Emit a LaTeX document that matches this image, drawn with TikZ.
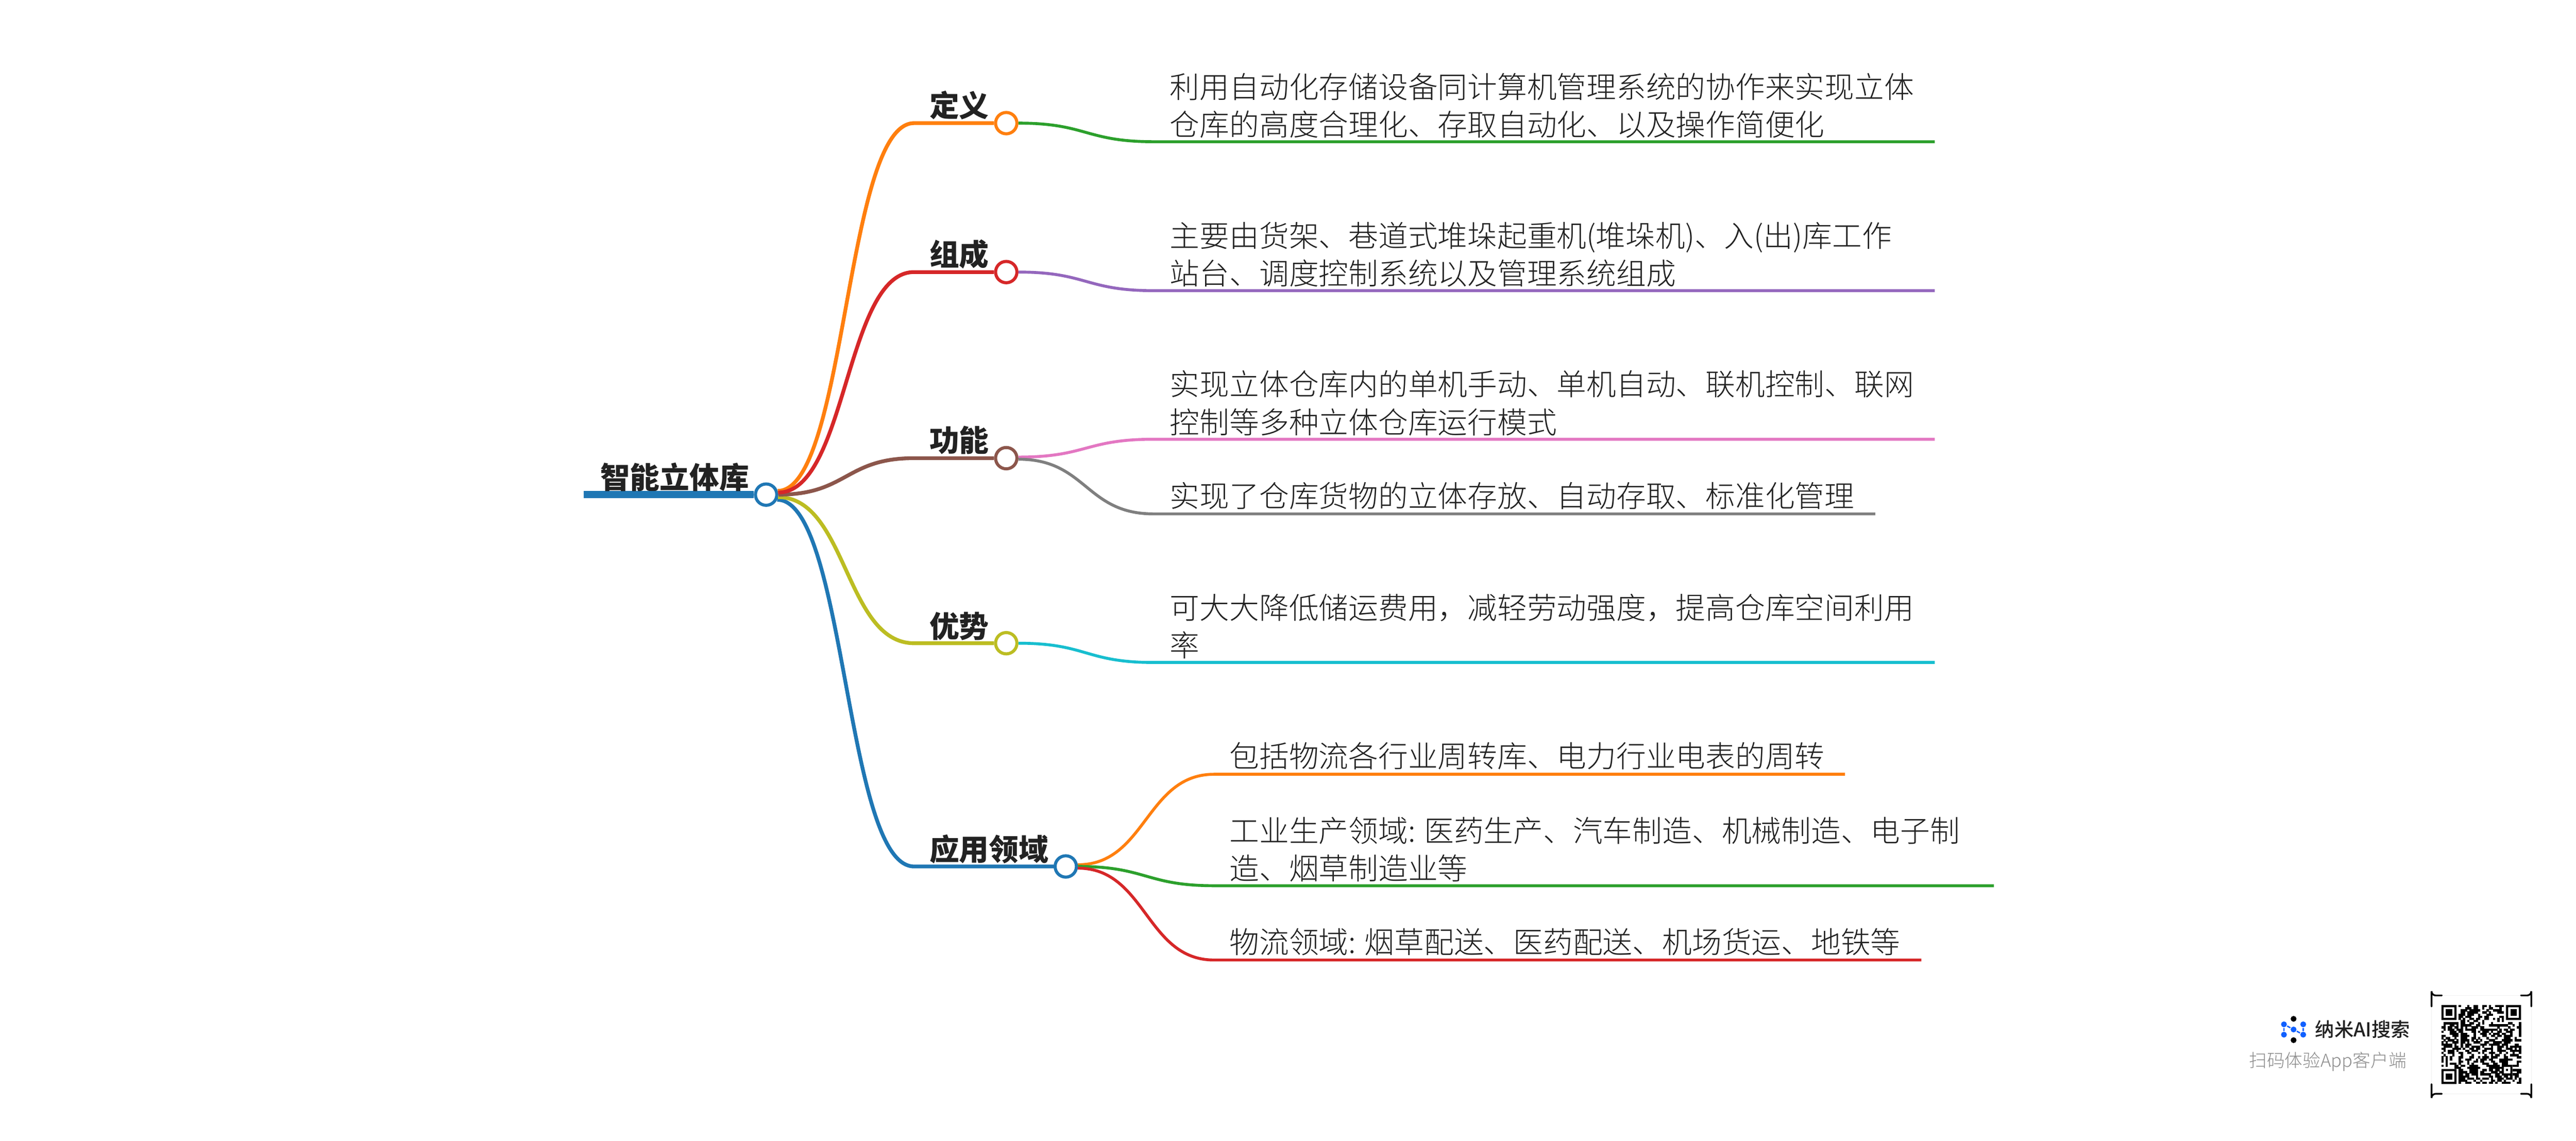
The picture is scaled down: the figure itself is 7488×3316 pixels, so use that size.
\documentclass[tikz,border=0pt]{standalone}
\usepackage{fontspec}
\setmainfont{Noto Sans CJK SC Light}[BoldFont={Noto Sans CJK SC Black}]
\newfontfamily\regcjk{Noto Sans CJK SC Medium}
\definecolor{cOrange}{HTML}{FF7F0E}
\definecolor{cRed}{HTML}{D62728}
\definecolor{cBrown}{HTML}{8C564B}
\definecolor{cOlive}{HTML}{BCBD22}
\definecolor{cBlue}{HTML}{1F77B4}
\definecolor{cGreen}{HTML}{2CA02C}
\definecolor{cPurple}{HTML}{9467BD}
\definecolor{cPink}{HTML}{E377C2}
\definecolor{cGrey}{HTML}{7F7F7F}
\definecolor{cCyan}{HTML}{17BECF}
\definecolor{cText}{HTML}{222222}
\definecolor{cLogo}{HTML}{1060FF}
\newcount\qrc \newcount\qrr
\def\qrscan#1{\ifx#1;\else\if#1x\fill ({7096.7+6.26*\the\qrc-0.2},{2922+6.2*\the\qrr-0.2}) rectangle ({7096.7+6.26*\the\qrc+6.46},{2922+6.2*\the\qrr+6.4});\fi\advance\qrc by 1 \expandafter\qrscan\fi}
\newcommand\qrline[1]{\qrc=0 \qrscan#1;\advance\qrr by 1 }
\newcommand\qrfinder[2]{%
  \fill[white] ({7096.7+6.26*#1},{2922+6.2*#2}) rectangle ++(6.26*7,6.2*7);
  \fill[even odd rule] ({7096.7+6.26*#1},{2922+6.2*#2}) rectangle ++(6.26*7,6.2*7)
     ({7096.7+6.26*(#1+1)},{2922+6.2*(#2+1)}) rectangle ++(6.26*5,6.2*5);
  \fill ({7096.7+6.26*(#1+2)},{2922+6.2*(#2+2)}) rectangle ++(6.26*3,6.2*3);}
\tikzset{
  dotnode/.style={circle,draw=#1,fill=white,line width=0.9pt,minimum size=6.2pt,inner sep=0pt},
  mainbr/.style={draw=#1,line width=1.1pt},
  subbr/.style={draw=#1,line width=0.85pt},
  toplabel/.style={anchor=west,inner sep=0pt,text=cText,font=\fontsize{8.65}{11}\selectfont\bfseries},
  leaf/.style={anchor=west,inner sep=0pt,text=cText,align=left,font=\fontsize{8.65}{11}\selectfont},
  logodot/.style={circle,fill=#1,inner sep=0pt,minimum size=1.7pt},
}
\begin{document}
\begin{tikzpicture}[x=0.1pt,y=-0.1pt]
\useasboundingbox (0,0) rectangle (7488,3316);
\fill[white] (0,0) rectangle (7488,3316);

% dots
\node[dotnode=cBlue] (rootdot) at (2227,1438) {};
\node[dotnode=cOrange] (d1) at (2925,358) {};
\node[dotnode=cRed] (d2) at (2925,791) {};
\node[dotnode=cBrown] (d3) at (2925,1332) {};
\node[dotnode=cOlive] (d4) at (2925,1870) {};
\node[dotnode=cBlue] (d5) at (3098,2519) {};

\coordinate (rootstart) at (1697,1438);
\coordinate (j1) at (2657,358);
\coordinate (j2) at (2657,791);
\coordinate (j3) at (2657,1332);
\coordinate (j4) at (2657,1870);
\coordinate (j5) at (2657,2519);
\coordinate (k1) at (3353,412);
\coordinate (e1) at (5624,412);
\coordinate (k2) at (3353,845);
\coordinate (e2) at (5624,845);
\coordinate (k3) at (3353,1277);
\coordinate (e3) at (5624,1277);
\coordinate (k4) at (3353,1494);
\coordinate (e4) at (5451,1494);
\coordinate (k5) at (3353,1926);
\coordinate (e5) at (5624,1926);
\coordinate (k6) at (3529,2251);
\coordinate (e6) at (5363,2251);
\coordinate (k7) at (3529,2575);
\coordinate (e7) at (5796,2575);
\coordinate (k8) at (3529,2791);
\coordinate (e8) at (5585,2791);

% root bar
\draw[cBlue,line width=2.1pt] (rootstart) -- (rootdot.west);

% main branches
\draw[mainbr=cBlue] (rootdot.-25) .. controls +(200,0) and +(-200,0) .. (j5) -- (d5.west);
\draw[mainbr=cOlive] (rootdot.-12) .. controls +(200,0) and +(-200,0) .. (j4) -- (d4.west);
\draw[mainbr=cBrown] (rootdot.0) .. controls +(200,0) and +(-200,0) .. (j3) -- (d3.west);
\draw[mainbr=cOrange] (rootdot.18) .. controls +(200,0) and +(-200,0) .. (j1) -- (d1.west);
\draw[mainbr=cRed] (rootdot.10) .. controls +(200,0) and +(-200,0) .. (j2) -- (d2.west);

% sub branches
\draw[subbr=cGreen] (d1.east) .. controls +(198,0) and +(-198,0) .. (k1) -- (e1);
\draw[subbr=cPurple] (d2.east) .. controls +(198,0) and +(-198,0) .. (k2) -- (e2);
\draw[subbr=cPink] (d3.5) .. controls +(198,0) and +(-198,0) .. (k3) -- (e3);
\draw[subbr=cGrey] (d3.-5) .. controls +(198,0) and +(-198,0) .. (k4) -- (e4);
\draw[subbr=cCyan] (d4.east) .. controls +(198,0) and +(-198,0) .. (k5) -- (e5);
\draw[subbr=cOrange] (d5.8) .. controls +(198,0) and +(-198,0) .. (k6) -- (e6);
\draw[subbr=cGreen] (d5.east) .. controls +(198,0) and +(-198,0) .. (k7) -- (e7);
\draw[subbr=cRed] (d5.-8) .. controls +(198,0) and +(-198,0) .. (k8) -- (e8);

% labels
\node[toplabel] (root) at (1743,1387) {智能立体库};
\node[toplabel] (l1) at (2700,306) {定义};
\node[toplabel] (l2) at (2700,739) {组成};
\node[toplabel] (l3) at (2700,1280) {功能};
\node[toplabel] (l4) at (2700,1821) {优势};
\node[toplabel] (l5) at (2700,2469) {应用领域};

\node[leaf] (t1) at (3399,307) {利用自动化存储设备同计算机管理系统的协作来实现立体\\仓库的高度合理化、存取自动化、以及操作简便化};
\node[leaf] (t2) at (3399,740) {主要由货架、巷道式堆垛起重机(堆垛机)、入(出)库工作\\站台、调度控制系统以及管理系统组成};
\node[leaf] (t3) at (3399,1172) {实现立体仓库内的单机手动、单机自动、联机控制、联网\\控制等多种立体仓库运行模式};
\node[leaf] (t4) at (3399,1441) {实现了仓库货物的立体存放、自动存取、标准化管理};
\node[leaf] (t5) at (3399,1821) {可大大降低储运费用，减轻劳动强度，提高仓库空间利用\\率};
\node[leaf] (t6) at (3572,2198) {包括物流各行业周转库、电力行业电表的周转};
\node[leaf] (t7) at (3572,2470) {工业生产领域: 医药生产、汽车制造、机械制造、电子制\\造、烟草制造业等};
\node[leaf] (t8) at (3572,2739) {物流领域: 烟草配送、医药配送、机场货运、地铁等};

% logo
\node[logodot=black] (lgt) at (6667,2962) {};
\node[logodot=black] (lgb) at (6667,3024) {};
\node[logodot=cLogo] (lg1) at (6639,2978) {};
\node[logodot=cLogo] (lg2) at (6695,2978) {};
\node[logodot=cLogo] (lg3) at (6639,3008) {};
\node[logodot=cLogo] (lg4) at (6695,3008) {};
\node[logodot=cLogo] (lg5) at (6667,2993) {};
\draw[cLogo,line width=0.4pt] (lg1) -- (lg3) (lg2) -- (lg4) (lg1) -- (lg5) -- (lg4);
\node[anchor=west,inner sep=0pt,text=cText,font=\regcjk\fontsize{5.6}{6}\selectfont] (brand) at (6728,2992) {纳米AI搜索};
\node[anchor=east,inner sep=0pt,text=gray!90,font=\fontsize{5.2}{6}\selectfont] (scan) at (6997,3086) {扫码体验App客户端};

% qr frame
\draw[black!6,line width=0.15pt] (7068,2894) rectangle (7358,3180);
\draw[black,line width=0.5pt,line cap=round] (7098,2894) -- (7080,2894) arc[start angle=90,end angle=180,radius=12] -- (7068,2926);
\draw[black,line width=0.5pt,line cap=round] (7328,2894) -- (7346,2894) arc[start angle=90,end angle=0,radius=12] -- (7358,2926);
\draw[black,line width=0.5pt,line cap=round] (7098,3180) -- (7080,3180) arc[start angle=270,end angle=180,radius=12] -- (7068,3152);
\draw[black,line width=0.5pt,line cap=round] (7328,3180) -- (7346,3180) arc[start angle=-90,end angle=0,radius=12] -- (7358,3152);

% qr modules
\qrr=0
\qrline{........x. ..x..xx..x x.x..xxxx. .......}
\qrline{.......... .xxx.xx..x ..xx...x.. .......}
\qrline{.........x xx.xxxxx.. .x..xxxx.. .......}
\qrline{.........x x.xxxxx..x x.x...xxx. .......}
\qrline{........xx x.xxx..x.. .xxx...... .......}
\qrline{........xx .xxx...xx. xx.....xx. .......}
\qrline{........x. x..xx.xx.. xx..x.x.x. .......}
\qrline{.........x x.x..xx..x ......x.x. .......}
\qrline{.xxxxxxx.x x..xx..x.x ...x...... .xx...x}
\qrline{.x..xx.x.x xxxx..xx.. ..xxxxxxxx x..x..x}
\qrline{xx.xx.xx.x .x..xxx.xx ......x... .x...xx}
\qrline{.x.xxx.xxx .xxxxx..xx xxxxxx.x.x x.xx..x}
\qrline{x...xxx.xx ....xx.x.x xx.x..xx.. xxx...x}
\qrline{....xxxx.x xx...x..xx x.x.xxx.xx ..x...x}
\qrline{xx...xxx.x xxx..x...x x..xx.xx.x xxx...x}
\qrline{x.xx..x..x xx..xx.x.. .x...x...x xx..x..}
\qrline{.x.xxx.x.x xxx.x.x.x. ..xxx...xx xxx.xxx}
\qrline{x.x..xxx.x x.x..xxx.. xx..xxxx.x xx.....}
\qrline{xxxxx.x..x .xxx....xx x.xxxxx.xx x...xx.}
\qrline{.xxxx.xx.x .xx.xxxx.x ...x..xxx. x.xxxxx}
\qrline{xx...xxxx. x..xx.xx.. xxxx..xx.. xxx.x.x}
\qrline{.x.xxx.x.. .xx.xxx..x x..x..xxxx ..xxxxx}
\qrline{x..xxx..xx ..xx...x.x ..xxx..x.. x..x..x}
\qrline{.x...x...x ....x..... x..x.xx..x ..xxxx.}
\qrline{x.x.x...xx ...xx..x.x xx.xxx...x x....xx}
\qrline{x.x.x...x. .xxx..x.xx x.xx...xxx xxx....}
\qrline{x.x.....xx ..x..xx.xx ...xx..xxx x....xx}
\qrline{..x.xxx.x. ..x.x....x xx..xx..xx x....x.}
\qrline{x.x...xx.x x..xxxx... .xxxxxx.x. x.xxxx.}
\qrline{......xxx. ..xxxxxx.. ..xxxxxx.. ..x....}
\qrline{........xx ...xxxx..x x.xx.xx.xx .xxxxxx}
\qrline{........xx xx.xxxx.xx ...xxx.x.. .x...xx}
\qrline{........xx .xx.xxx.xx xxx..xx.x. xx.xxx.}
\qrline{........xx xxx...x... ..xx.xxx.x x.x.xx.}
\qrline{........xx x.xxx.xx.x xx.x..xxx. xxx.x.x}
\qrline{........xx xx...x..x. ...xx.xx.x ...x..x}
\qrline{........x. .xxx..xx.x x.xx.x..xx xx...xx}
\qrfinder{0}{0}
\qrfinder{30}{0}
\qrfinder{0}{30}
\fill[white] ({7096.7+6.26*28},{2922+6.2*28}) rectangle ++(6.26*5,6.2*5);
\fill[even odd rule] ({7096.7+6.26*28},{2922+6.2*28}) rectangle ++(6.26*5,6.2*5)
  ({7096.7+6.26*29},{2922+6.2*29}) rectangle ++(6.26*3,6.2*3);
\fill ({7096.7+6.26*30},{2922+6.2*30}) rectangle ++(6.26,6.2);
\end{tikzpicture}
\end{document}
